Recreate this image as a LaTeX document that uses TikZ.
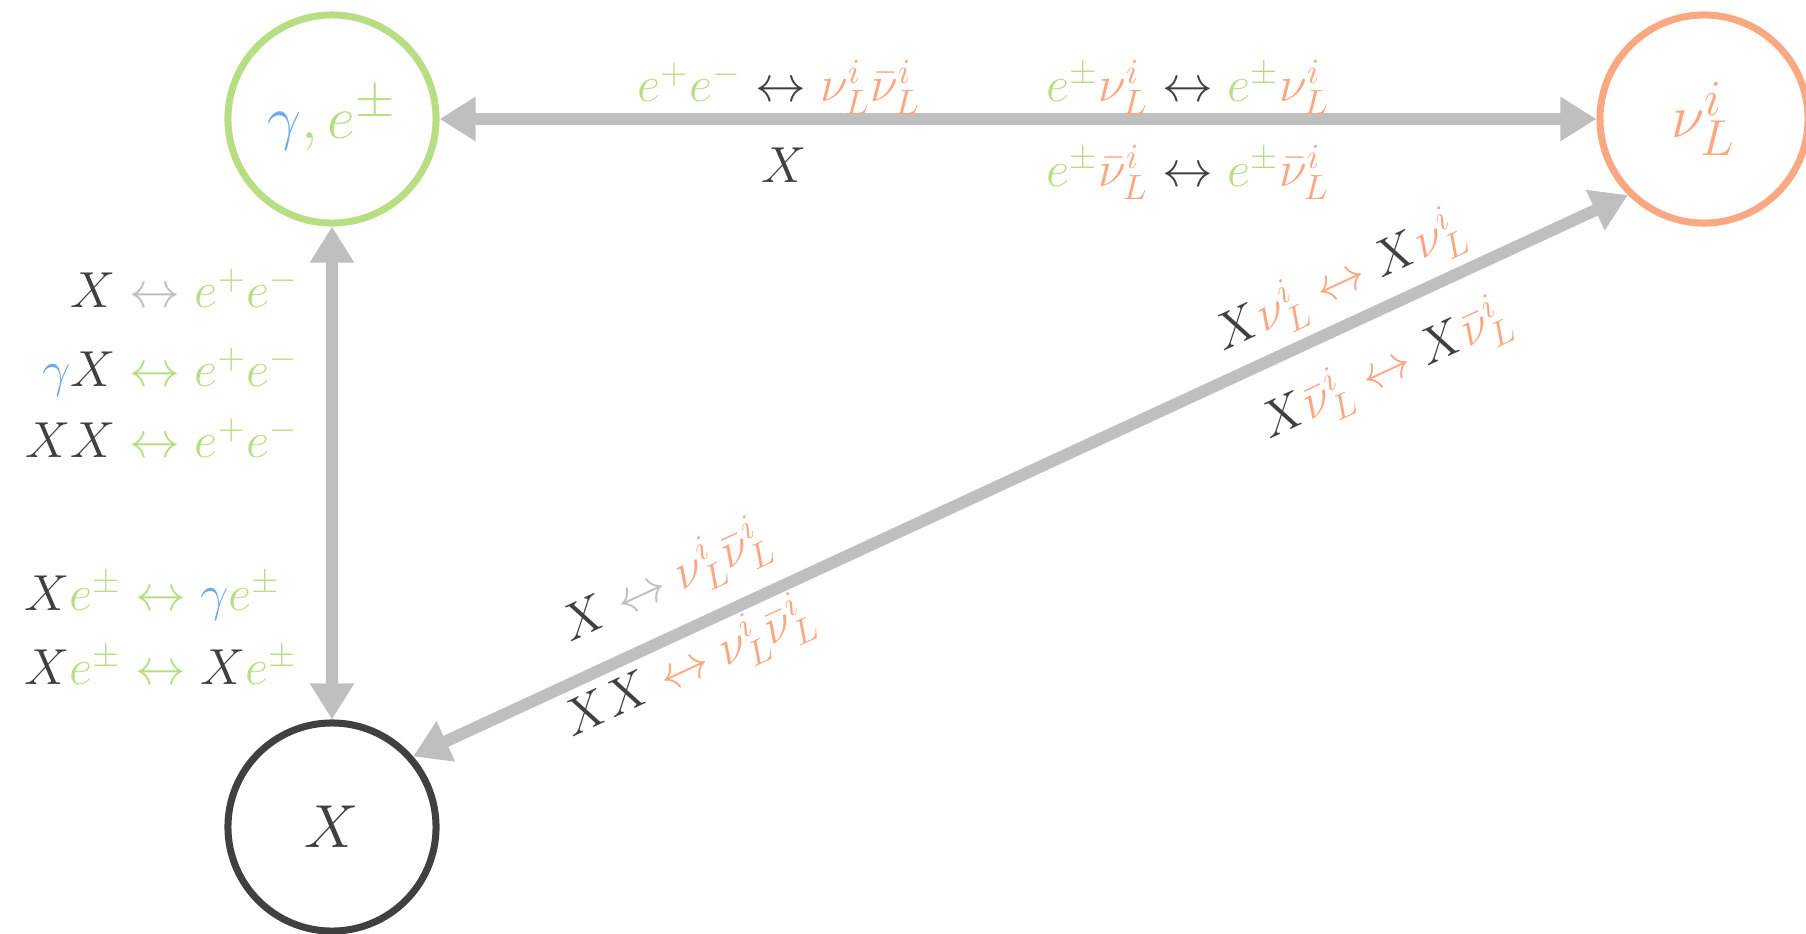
\documentclass[tikz,border=0pt]{standalone}
\usetikzlibrary{arrows.meta}
\definecolor{cgreen}{RGB}{183,222,131}
\definecolor{corange}{RGB}{250,168,130}
\definecolor{cblue}{RGB}{111,171,230}
\definecolor{cdark}{RGB}{64,64,64}
\definecolor{cgray}{RGB}{191,191,191}
\newcommand{\colG}[1]{\textcolor{cgreen}{#1}}
\newcommand{\colO}[1]{\textcolor{corange}{#1}}
\newcommand{\colB}[1]{\textcolor{cblue}{#1}}
\newcommand{\lra}[1]{\mathrel{\textcolor{#1}{\leftrightarrow}}}
\begin{document}
\begin{tikzpicture}[x=0.01cm,y=-0.01cm,
  state/.style={circle,minimum size=2.08cm,inner sep=0pt,line width=2pt,fill=white,
    font=\fontsize{19}{23}\selectfont},
  conn/.style={draw=cgray,line width=3.4pt,
    {Triangle[length=0.36cm,width=0.42cm]}-{Triangle[length=0.36cm,width=0.42cm]}},
  lab/.style={text=cdark,font=\fontsize{14.2}{17}\selectfont,inner sep=1pt}]
\useasboundingbox (0,0) rectangle (1806,933);
% states
\node[state,draw=cgreen] (ge) at (332,119) {$\colB{\gamma}\colG{,e^{\pm}}$};
\node[state,draw=corange] (nu) at (1704,119) {$\colO{\nu_L^i}$};
\node[state,draw=cdark,text=cdark] (X) at (332,827) {$X$};
% connectors
\draw[conn] (ge) -- (nu);
\draw[conn] (ge) -- (X);
\draw[conn] (X.41) -- (nu.225);
% top labels
\node[lab] (t1) at (779,87) {$\colG{e^+e^-}\lra{cdark}\colO{\nu_L^i\bar\nu_L^i}$};
\node[lab] (t2) at (1188,87) {$\colG{e^\pm}\colO{\nu_L^i}\lra{cdark}\colG{e^\pm}\colO{\nu_L^i}$};
\node[lab] (t3) at (784,165) {$X$};
\node[lab] (t4) at (1188,172) {$\colG{e^\pm}\colO{\bar\nu_L^i}\lra{cdark}\colG{e^\pm}\colO{\bar\nu_L^i}$};
% left labels
\node[lab,anchor=east] (l1) at (303,288) {$X\lra{cgray}\colG{e^+e^-}$};
\node[lab,anchor=east] (l2) at (303,372) {$\colB{\gamma}X\lra{cgreen}\colG{e^+e^-}$};
\node[lab,anchor=east] (l3) at (303,438) {$XX\lra{cgreen}\colG{e^+e^-}$};
\node[lab,anchor=west] (l4) at (20,596) {$X\colG{e^\pm}\lra{cgreen}\colB{\gamma}\colG{e^\pm}$};
\node[lab,anchor=west] (l5) at (20,665) {$X\colG{e^\pm}\lra{cgreen}X\colG{e^\pm}$};
% diagonal labels
\node[lab,rotate=24.8] (d1) at (1340,282) {$X\colO{\nu_L^i}\lra{corange}X\colO{\nu_L^i}$};
\node[lab,rotate=24.8] (d2) at (1386,370) {$X\colO{\bar\nu_L^i}\lra{corange}X\colO{\bar\nu_L^i}$};
\node[lab,rotate=24.8] (d3) at (666,582) {$X\lra{cgray}\colO{\nu_L^i\bar\nu_L^i}$};
\node[lab,rotate=24.8] (d4) at (689,668) {$XX\lra{corange}\colO{\nu_L^i\bar\nu_L^i}$};
\end{tikzpicture}
\end{document}
